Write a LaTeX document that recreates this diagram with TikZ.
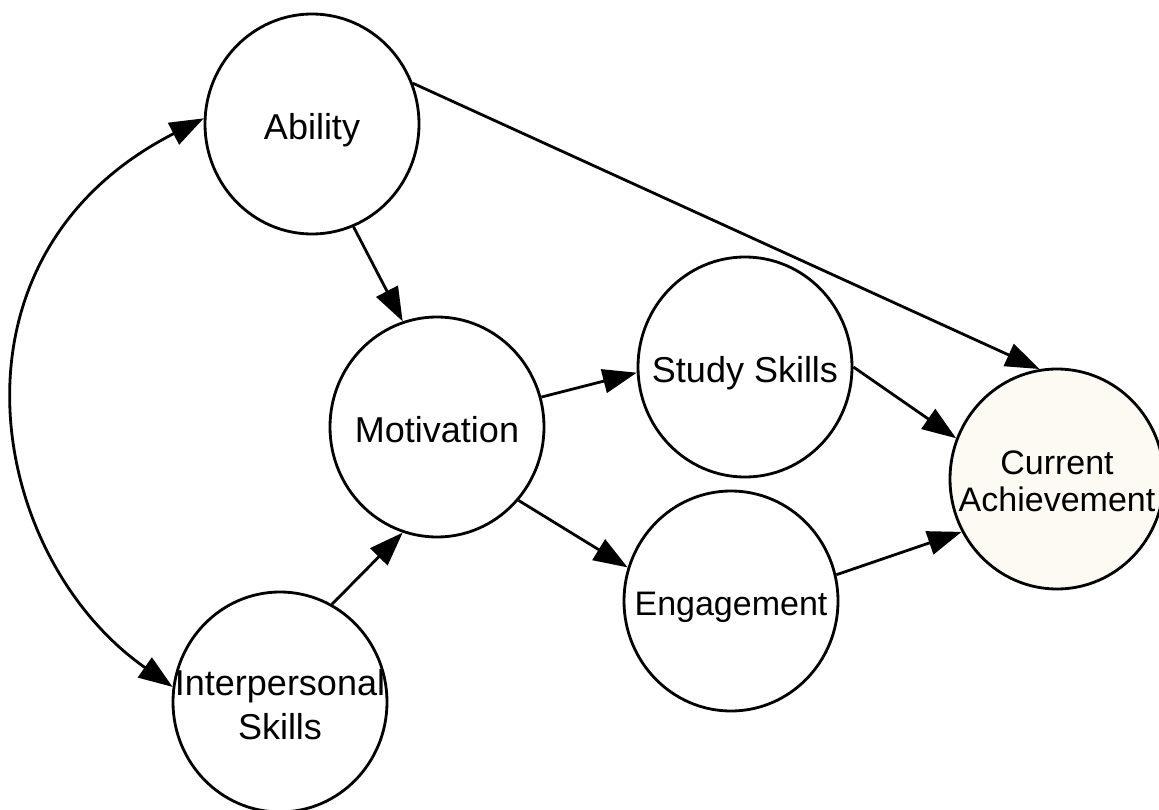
\documentclass[tikz,border=0pt]{standalone}
\usepackage{fontspec}
\setmainfont{Liberation Sans}
\usepackage{tikz}
\usetikzlibrary{arrows.meta, shapes.geometric}

\definecolor{cream}{RGB}{253,250,244}
\newcommand{\vname}[1]{\raisebox{-13pt}[0pt][0pt]{\makebox[0pt]{\begin{tabular}{@{}c@{}}#1\end{tabular}}}}

\begin{document}
\begin{tikzpicture}[x=1pt, y=1pt,
    var/.style={ellipse, draw, line width=2.8pt, minimum width=214pt, minimum height=220pt,
                inner sep=0pt, fill=white, font=\fontsize{36}{44}\selectfont},
    path/.style={line width=2.8pt, -{Triangle[length=34pt, width=24pt]}}]
    \useasboundingbox (0,0) rectangle (1159,-810);
    % Variables
    \node[var] (abil) at (312,-124) {\vname{Ability}};
    \node[var] (motiv) at (437,-427) {\vname{Motivation}};
    \node[var] (study) at (745,-367) {\vname{Study Skills}};
    \node[var, font=\fontsize{34}{40}\selectfont] (engage) at (731,-601) {\vname{Engagement}};
    \node[var, fill=cream, font=\fontsize{34}{37}\selectfont] (achieve) at (1057,-479) {\vname{Current\\Achievement}};
    \node[var] (inter) at (280,-702) {\vname{Interpersonal\\Skills}};
    % Paths
    \draw[path] (abil.-68) -- (motiv.108);
    \draw[path] (abil.22) -- (achieve.99);
    \draw[path] (inter.62) -- (motiv.-108);
    \draw[path] (motiv.16) -- (study.183);
    \draw[path] (motiv.-42) -- (engage.162);
    \draw[path] (study.0) -- (achieve.158);
    \draw[path] (engage.14) -- (achieve.-151);
    % Covariance
    \draw[path, {Triangle[length=34pt, width=24pt]}-{Triangle[length=34pt, width=24pt]}]
        (abil.177) .. controls +(207:303) and +(145:228) .. (inter.172);
\end{tikzpicture}
\end{document}
